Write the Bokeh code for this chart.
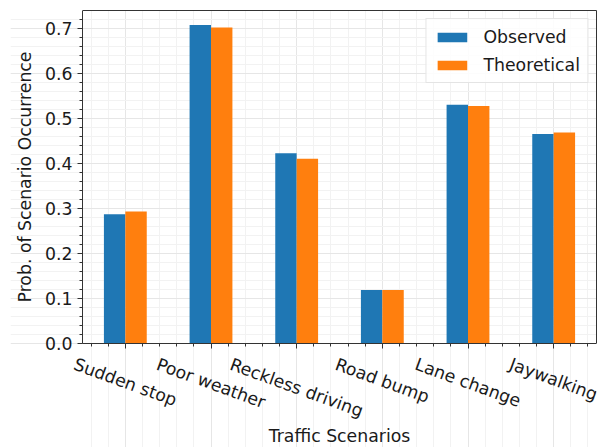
import numpy as np
from bokeh.plotting import figure
from bokeh.models import (ColumnDataSource, FixedTicker, Range1d, LinearAxis,
                          Legend, LegendItem)
from bokeh.core.properties import value
from bokeh.transform import dodge
from bokeh.embed import file_html
from bokeh.resources import INLINE

categories = ["Sudden stop", "Poor weather", "Reckless driving", "Road bump", "Lane change", "Jaywalking"]
observed = [0.287, 0.707, 0.422, 0.119, 0.530, 0.465]
theoretical = [0.293, 0.701, 0.410, 0.119, 0.527, 0.468]
y_ticks = [0.0, 0.1, 0.2, 0.3, 0.4, 0.5, 0.6, 0.7]
y_tick_labels = ["0.0", "0.1", "0.2", "0.3", "0.4", "0.5", "0.6", "0.7"]
x_title = "Traffic Scenarios"
y_title = "Prob. of Scenario Occurrence"
series_names = ["Observed", "Theoretical"]

FONT = "DejaVu Sans"
FS = 17.3
TXT = "#1a1a1a"
AXC = "#333333"
ANG = np.deg2rad(20)

# ---- layout (pixels) ----
W, H = 604, 447
PL, PR, PT, PB = 82, 596, 10, 343       # plot-area box
FL, FB = 10, 447                         # extended frame (room for labels)
N = len(categories)
X0, X1 = -0.5, N - 0.5
Y0, Y1 = 0.0, 0.739
U = (PR - PL) / (X1 - X0)                # px per category
K = (Y1 - Y0) / (PB - PT)                # data per px (y)

def px_x(dx):
    return dx / U

def px_y(dy):
    return dy * K

# approximate DejaVu Sans advance widths (em) to centre rotated labels like matplotlib
_W = {" ": .318, "S": .635, "u": .634, "d": .635, "e": .615, "n": .634, "s": .521, "t": .392,
      "o": .612, "p": .635, "P": .603, "r": .411, "w": .818, "a": .613, "h": .634, "R": .695,
      "c": .550, "k": .579, "l": .278, "i": .278, "v": .592, "g": .635, "b": .635, "m": .974,
      "L": .557, "J": .295, "y": .592}

def _half_h(txt):
    w = sum(_W.get(ch, .6) for ch in txt) * FS
    h = 1.164 * FS
    return (w * np.sin(ANG) + h * np.cos(ANG)) / 2

xs = list(range(N))
src = ColumnDataSource(dict(x=xs, obs=observed, theo=theoretical))

p = figure(width=W, height=H, output_backend="svg", toolbar_location=None,
           x_range=Range1d(X0 - px_x(PL - FL), X1),
           y_range=Range1d(Y0 - px_y(FB - PB), Y1),
           x_axis_location="above",
           min_border_left=FL, min_border_right=W - PR, min_border_top=PT,
           min_border_bottom=H - FB, outline_line_color=None)

r1 = p.vbar(x=dodge("x", -0.125, range=p.x_range), top="obs", width=0.25, bottom=0,
            source=src, fill_color="#1f77b4", line_color=None)
r2 = p.vbar(x=dodge("x", 0.125, range=p.x_range), top="theo", width=0.25, bottom=0,
            source=src, fill_color="#ff7f0e", line_color=None)

minor_x = [round(v, 2) for v in np.arange(-0.4, N - 0.5, 0.2)]
minor_y = [round(v, 2) for v in np.arange(0.02, 0.74, 0.02)]

xa = p.above[0]
ya = p.left[0]
xa.ticker = FixedTicker(ticks=xs, minor_ticks=minor_x)
ya.ticker = FixedTicker(ticks=y_ticks, minor_ticks=minor_y)
xa.major_label_overrides = {t: "" for t in xs}
ya.major_label_overrides = {t: "" for t in y_ticks}
xa.fixed_location = 0
ya.fixed_location = X0
xa.bounds = (X0, X1)
ya.bounds = (Y0, Y1)
# x axis sits on the "above" side: its ticks point down with tick_in
xa.major_tick_in, xa.major_tick_out = 5, 0
xa.minor_tick_in, xa.minor_tick_out = 3, 0
ya.major_tick_in, ya.major_tick_out = 0, 5
ya.minor_tick_in, ya.minor_tick_out = 0, 3
for ax in (xa, ya):
    ax.major_label_text_font_size = "0px"
    ax.major_label_text_color = None
    ax.major_label_standoff = 0
    ax.axis_line_color = AXC
    ax.major_tick_line_color = AXC
    ax.minor_tick_line_color = AXC

# top and right frame edges
top_ax = LinearAxis(ticker=FixedTicker(ticks=[]), bounds=(X0, X1), major_tick_out=0,
                    minor_tick_out=0, major_label_text_font_size="0px",
                    major_label_text_color=None, major_label_standoff=0, axis_line_color=AXC)
right_ax = LinearAxis(ticker=FixedTicker(ticks=[]), bounds=(Y0, Y1), major_tick_out=0,
                      minor_tick_out=0, major_label_text_font_size="0px",
                      major_label_text_color=None, major_label_standoff=0, axis_line_color=AXC)
p.add_layout(top_ax, "above")
p.add_layout(right_ax, "right")

p.xgrid.ticker = xa.ticker
p.ygrid.ticker = ya.ticker
p.xgrid.bounds = (Y0, Y1)
p.ygrid.bounds = (X0, X1)
for g in (p.xgrid, p.ygrid):
    g.grid_line_color = "#e6e6e6"
    g.minor_grid_line_color = "#f2f2f2"

# y tick labels
p.text(x=[X0] * len(y_ticks), y=y_ticks, text=y_tick_labels, x_offset=-10,
       text_align="right", text_baseline="middle",
       text_font=value(FONT), text_font_size=value(f"{FS}px"), text_color=TXT)
# y title
p.text(x=[X0 - px_x(PL - 24.5)], y=[(Y0 + Y1) / 2], text=[y_title], angle=np.pi / 2,
       text_align="center", text_baseline="middle",
       text_font=value(FONT), text_font_size=value(f"{FS}px"), text_color=TXT)
# rotated category labels, centred on their ticks
lab_src = ColumnDataSource(dict(x=xs, cat=categories,
                                y=[-px_y(10.5 + _half_h(c)) for c in categories]))
p.text(x="x", y="y", text="cat", source=lab_src, angle=-ANG,
       text_align="center", text_baseline="middle",
       text_font=value(FONT), text_font_size=value(f"{FS}px"), text_color=TXT)
# x title
p.text(x=[(X0 + X1) / 2], y=[-px_y(435 - PB)], text=[x_title],
       text_align="center", text_baseline="middle",
       text_font=value(FONT), text_font_size=value(f"{FS}px"), text_color=TXT)

legend = Legend(items=[LegendItem(label=series_names[0], renderers=[r1]),
                       LegendItem(label=series_names[1], renderers=[r2])],
                location="top_right")
legend.label_text_font = FONT
legend.label_text_font_size = f"{FS}px"
legend.label_text_color = TXT
legend.glyph_width = 37
legend.glyph_height = 12
legend.label_height = 21
legend.spacing = 7
legend.padding = 7
legend.margin = 8
legend.label_standoff = 13
legend.border_line_color = "#cccccc"
legend.background_fill_alpha = 0.85
p.add_layout(legend)

open("out.html", "w").write(file_html(p, INLINE))
